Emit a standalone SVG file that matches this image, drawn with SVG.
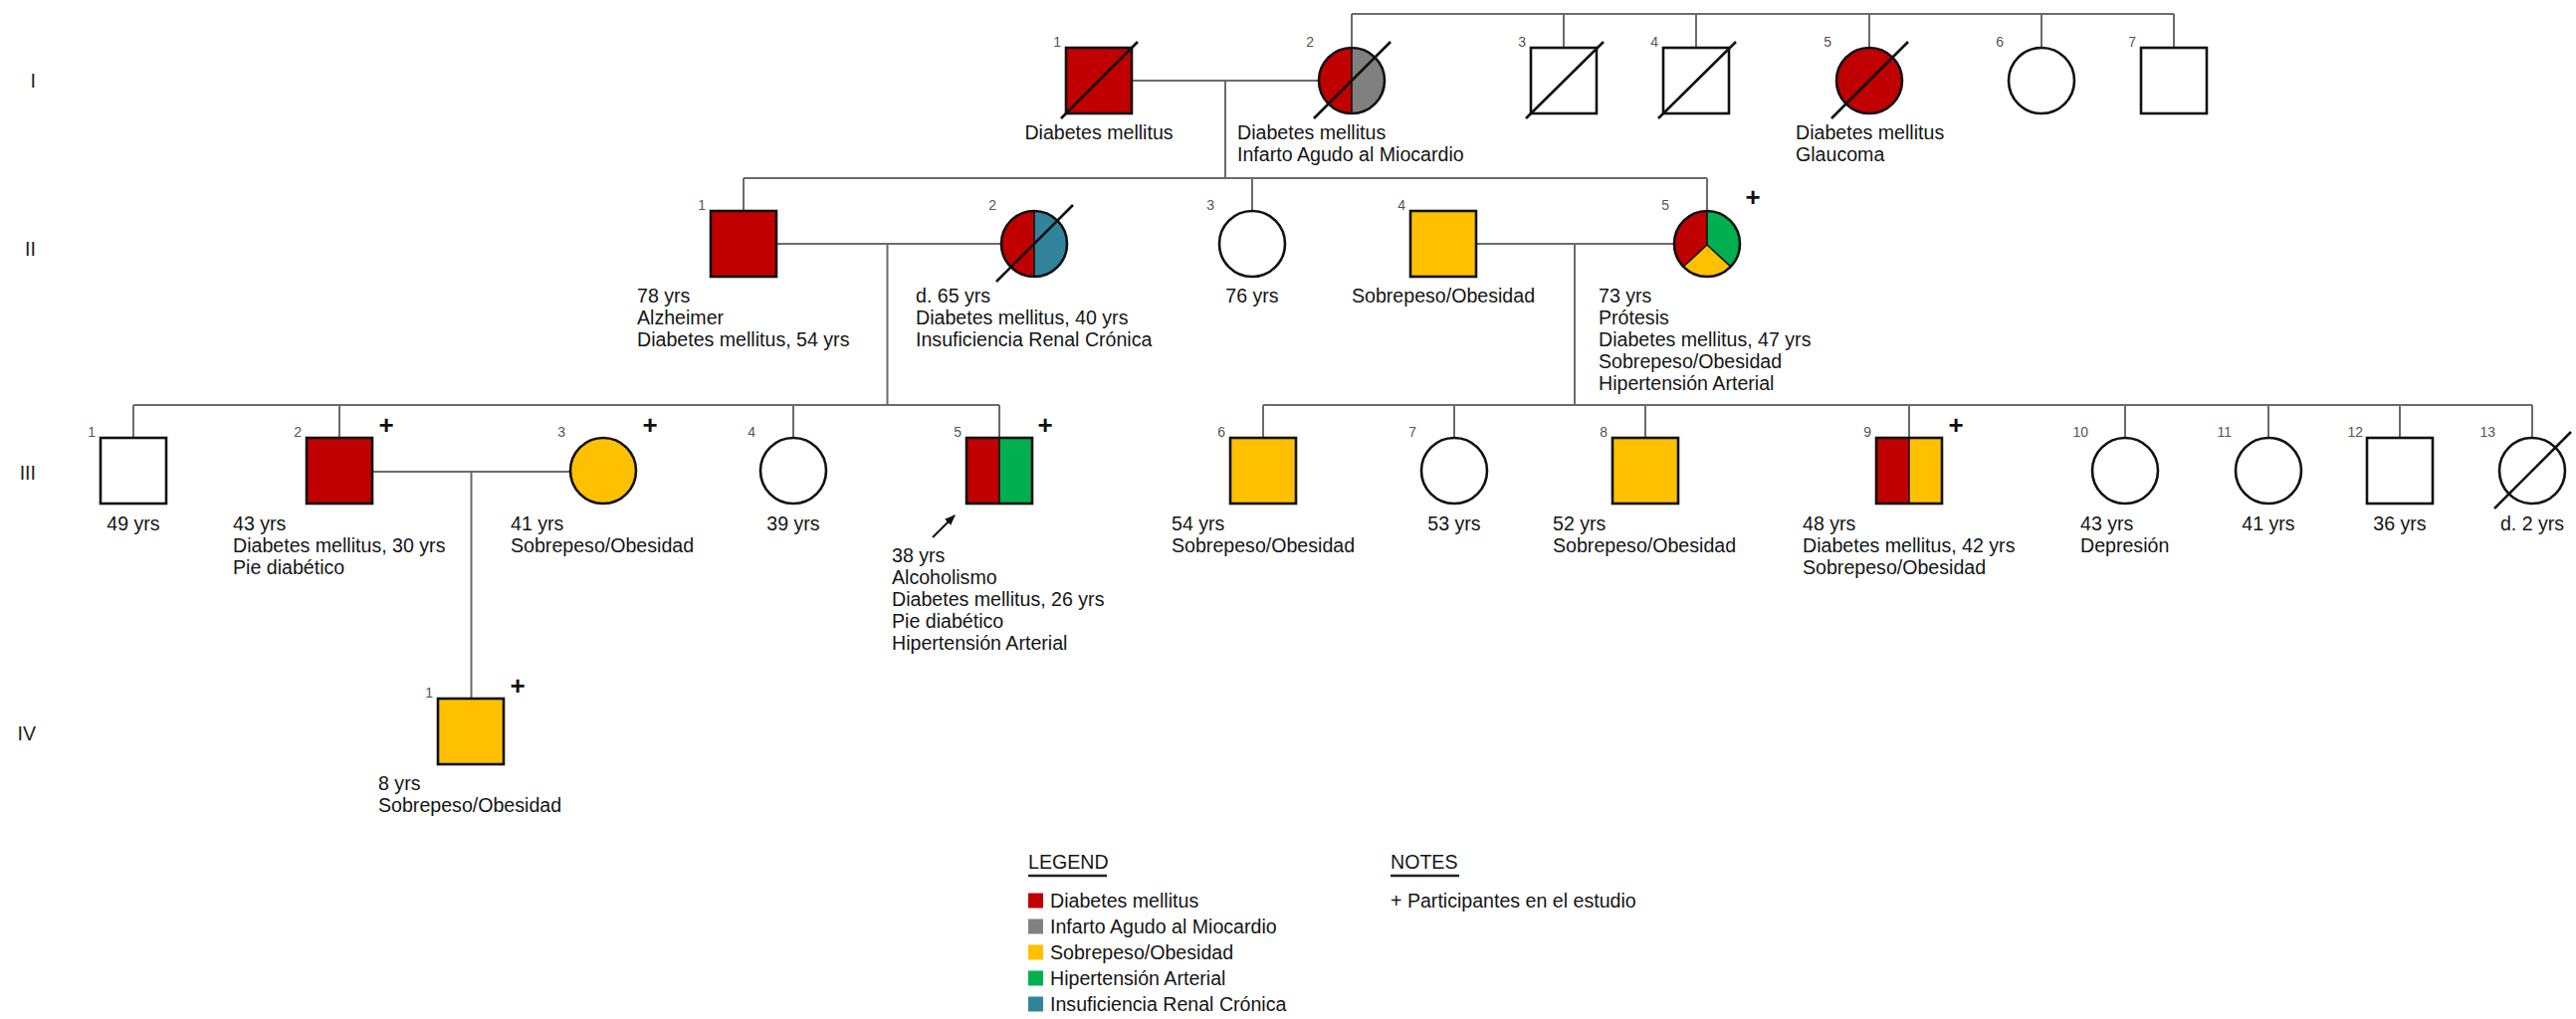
<svg xmlns="http://www.w3.org/2000/svg" width="2588" height="1024" viewBox="0 0 2588 1024">
<style>
text{font-family:"Liberation Sans",Arial,sans-serif}
.conn{stroke:#6b6b6b;stroke-width:2;fill:none}
.nd{stroke:#111;stroke-width:2.6;fill:#fff}
.nf{stroke:#111;stroke-width:2.6;fill:none}
.div{stroke:#111;stroke-width:1.6}
.dec{stroke:#111;stroke-width:2.6}
.lbl{font-size:19.6px;fill:#151515}
.mid{text-anchor:middle}
.num{font-size:14px;fill:#555;text-anchor:end}
.gen{font-size:19.6px;fill:#222;text-anchor:end}
.plus{font-size:26px;font-weight:bold;fill:#111;text-anchor:middle}
.dm{fill:#C00000}.iam{fill:#808080}.ob{fill:#FFC000}.hta{fill:#00B050}.irc{fill:#31849B}
</style>
<defs>
<marker id="ah" viewBox="0 0 10 10" refX="9" refY="5" markerWidth="11" markerHeight="11" markerUnits="userSpaceOnUse" orient="auto">
<path d="M0,1 L10,5 L0,9 Z" fill="#111"/>
</marker>
</defs>
<rect width="2588" height="1024" fill="#fff"/>

<g id="generations">
<text class="gen" x="36" y="88">I</text>
<text class="gen" x="36" y="257">II</text>
<text class="gen" x="36" y="482">III</text>
<text class="gen" x="36" y="744">IV</text>
</g>

<g id="connectors">
<path class="conn" d="M1358 14H2184M1358 14V48M1571 14V48M1704 14V48M1878 14V48M2051 14V48M2184 14V48"/>
<path class="conn" d="M1137 81H1325M1231 81V179"/>
<path class="conn" d="M747 179H1715M747 179V212M1258 179V212M1715 179V212"/>
<path class="conn" d="M780 245H1006M891.5 245V407"/>
<path class="conn" d="M1483 245H1682M1582 245V407"/>
<path class="conn" d="M134 407H1004M134 407V440M341 407V440M797 407V440M1004 407V440"/>
<path class="conn" d="M1269 407H2544M1269 407V440M1461 407V440M1653 407V440M1918 407V440M2135 407V440M2279 407V440M2411 407V440M2544 407V440"/>
<path class="conn" d="M374 474H573M473.5 474V702"/>
<line x1="937" y1="540" x2="959" y2="518" stroke="#111" stroke-width="2" marker-end="url(#ah)"/>
</g>

<!-- Generation I -->
<g id="I-1">
<rect class="nd dm" x="1071" y="48" width="66" height="66"/>
<line class="dec" x1="1066" y1="119" x2="1143" y2="42"/>
<text class="num" x="1066" y="47">1</text>
<text class="lbl mid" x="1104" y="140">Diabetes mellitus</text>
</g>
<g id="I-2">
<path class="dm" d="M1358 48A33 33 0 0 0 1358 114Z"/>
<path class="iam" d="M1358 48A33 33 0 0 1 1358 114Z"/>
<line class="div" x1="1358" y1="48" x2="1358" y2="114"/>
<circle class="nf" cx="1358" cy="81" r="33"/>
<line class="dec" x1="1320" y1="119" x2="1397" y2="42"/>
<text class="num" x="1320" y="47">2</text>
<text class="lbl" x="1243" y="140"><tspan x="1243">Diabetes mellitus</tspan><tspan x="1243" dy="22">Infarto Agudo al Miocardio</tspan></text>
</g>
<g id="I-3">
<rect class="nd" x="1538" y="48" width="66" height="66"/>
<line class="dec" x1="1533" y1="119" x2="1611" y2="42"/>
<text class="num" x="1533" y="47">3</text>
</g>
<g id="I-4">
<rect class="nd" x="1671" y="48" width="66" height="66"/>
<line class="dec" x1="1666" y1="119" x2="1744" y2="42"/>
<text class="num" x="1666" y="47">4</text>
</g>
<g id="I-5">
<circle class="nd dm" cx="1878" cy="81" r="33"/>
<line class="dec" x1="1840" y1="119" x2="1917" y2="42"/>
<text class="num" x="1840" y="47">5</text>
<text class="lbl" x="1804" y="140"><tspan x="1804">Diabetes mellitus</tspan><tspan x="1804" dy="22">Glaucoma</tspan></text>
</g>
<g id="I-6">
<circle class="nd" cx="2051" cy="81" r="33"/>
<text class="num" x="2013" y="47">6</text>
</g>
<g id="I-7">
<rect class="nd" x="2151" y="48" width="66" height="66"/>
<text class="num" x="2146" y="47">7</text>
</g>

<!-- Generation II -->
<g id="II-1">
<rect class="nd dm" x="714" y="212" width="66" height="66"/>
<text class="num" x="709" y="211">1</text>
<text class="lbl" x="640" y="304"><tspan x="640">78 yrs</tspan><tspan x="640" dy="22">Alzheimer</tspan><tspan x="640" dy="22">Diabetes mellitus, 54 yrs</tspan></text>
</g>
<g id="II-2">
<path class="dm" d="M1039 212A33 33 0 0 0 1039 278Z"/>
<path class="irc" d="M1039 212A33 33 0 0 1 1039 278Z"/>
<line class="div" x1="1039" y1="212" x2="1039" y2="278"/>
<circle class="nf" cx="1039" cy="245" r="33"/>
<line class="dec" x1="1001" y1="283" x2="1078" y2="206"/>
<text class="num" x="1001" y="211">2</text>
<text class="lbl" x="920" y="304"><tspan x="920">d. 65 yrs</tspan><tspan x="920" dy="22">Diabetes mellitus, 40 yrs</tspan><tspan x="920" dy="22">Insuficiencia Renal Crónica</tspan></text>
</g>
<g id="II-3">
<circle class="nd" cx="1258" cy="245" r="33"/>
<text class="num" x="1220" y="211">3</text>
<text class="lbl mid" x="1258" y="304">76 yrs</text>
</g>
<g id="II-4">
<rect class="nd ob" x="1417" y="212" width="66" height="66"/>
<text class="num" x="1412" y="211">4</text>
<text class="lbl mid" x="1450" y="304">Sobrepeso/Obesidad</text>
</g>
<g id="II-5">
<path class="dm" d="M1715 246L1715 212A33 33 0 0 0 1691.3 267.9Z"/>
<path class="hta" d="M1715 246L1715 212A33 33 0 0 1 1738.7 267.9Z"/>
<path class="ob" d="M1715 246L1738.7 267.9A33 33 0 0 1 1691.3 267.9Z"/>
<path class="div" d="M1715 212V246L1691.3 267.9M1715 246L1738.7 267.9" fill="none"/>
<circle class="nf" cx="1715" cy="245" r="33"/>
<text class="num" x="1677" y="211">5</text>
<text class="plus" x="1761" y="207">+</text>
<text class="lbl" x="1606" y="304"><tspan x="1606">73 yrs</tspan><tspan x="1606" dy="22">Prótesis</tspan><tspan x="1606" dy="22">Diabetes mellitus, 47 yrs</tspan><tspan x="1606" dy="22">Sobrepeso/Obesidad</tspan><tspan x="1606" dy="22">Hipertensión Arterial</tspan></text>
</g>

<!-- Generation III -->
<g id="III-1">
<rect class="nd" x="101" y="440" width="66" height="66"/>
<text class="num" x="96" y="439">1</text>
<text class="lbl mid" x="134" y="533">49 yrs</text>
</g>
<g id="III-2">
<rect class="nd dm" x="308" y="440" width="66" height="66"/>
<text class="num" x="303" y="439">2</text>
<text class="plus" x="388" y="436">+</text>
<text class="lbl" x="234" y="533"><tspan x="234">43 yrs</tspan><tspan x="234" dy="22">Diabetes mellitus, 30 yrs</tspan><tspan x="234" dy="22">Pie diabético</tspan></text>
</g>
<g id="III-3">
<circle class="nd ob" cx="606" cy="473" r="33"/>
<text class="num" x="568" y="439">3</text>
<text class="plus" x="653" y="436">+</text>
<text class="lbl" x="513" y="533"><tspan x="513">41 yrs</tspan><tspan x="513" dy="22">Sobrepeso/Obesidad</tspan></text>
</g>
<g id="III-4">
<circle class="nd" cx="797" cy="473" r="33"/>
<text class="num" x="759" y="439">4</text>
<text class="lbl mid" x="797" y="533">39 yrs</text>
</g>
<g id="III-5">
<rect class="dm" x="971" y="440" width="33" height="66"/>
<rect class="hta" x="1004" y="440" width="33" height="66"/>
<line class="div" x1="1004" y1="440" x2="1004" y2="506"/>
<rect class="nf" x="971" y="440" width="66" height="66"/>
<text class="num" x="966" y="439">5</text>
<text class="plus" x="1050" y="436">+</text>
<text class="lbl" x="896" y="565"><tspan x="896">38 yrs</tspan><tspan x="896" dy="22">Alcoholismo</tspan><tspan x="896" dy="22">Diabetes mellitus, 26 yrs</tspan><tspan x="896" dy="22">Pie diabético</tspan><tspan x="896" dy="22">Hipertensión Arterial</tspan></text>
</g>
<g id="III-6">
<rect class="nd ob" x="1236" y="440" width="66" height="66"/>
<text class="num" x="1231" y="439">6</text>
<text class="lbl" x="1177" y="533"><tspan x="1177">54 yrs</tspan><tspan x="1177" dy="22">Sobrepeso/Obesidad</tspan></text>
</g>
<g id="III-7">
<circle class="nd" cx="1461" cy="473" r="33"/>
<text class="num" x="1423" y="439">7</text>
<text class="lbl mid" x="1461" y="533">53 yrs</text>
</g>
<g id="III-8">
<rect class="nd ob" x="1620" y="440" width="66" height="66"/>
<text class="num" x="1615" y="439">8</text>
<text class="lbl" x="1560" y="533"><tspan x="1560">52 yrs</tspan><tspan x="1560" dy="22">Sobrepeso/Obesidad</tspan></text>
</g>
<g id="III-9">
<rect class="dm" x="1885" y="440" width="33" height="66"/>
<rect class="ob" x="1918" y="440" width="33" height="66"/>
<line class="div" x1="1918" y1="440" x2="1918" y2="506"/>
<rect class="nf" x="1885" y="440" width="66" height="66"/>
<text class="num" x="1880" y="439">9</text>
<text class="plus" x="1965" y="436">+</text>
<text class="lbl" x="1811" y="533"><tspan x="1811">48 yrs</tspan><tspan x="1811" dy="22">Diabetes mellitus, 42 yrs</tspan><tspan x="1811" dy="22">Sobrepeso/Obesidad</tspan></text>
</g>
<g id="III-10">
<circle class="nd" cx="2135" cy="473" r="33"/>
<text class="num" x="2098" y="439">10</text>
<text class="lbl" x="2090" y="533"><tspan x="2090">43 yrs</tspan><tspan x="2090" dy="22">Depresión</tspan></text>
</g>
<g id="III-11">
<circle class="nd" cx="2279" cy="473" r="33"/>
<text class="num" x="2242" y="439">11</text>
<text class="lbl mid" x="2279" y="533">41 yrs</text>
</g>
<g id="III-12">
<rect class="nd" x="2378" y="440" width="66" height="66"/>
<text class="num" x="2374" y="439">12</text>
<text class="lbl mid" x="2411" y="533">36 yrs</text>
</g>
<g id="III-13">
<circle class="nd" cx="2544" cy="473" r="33"/>
<line class="dec" x1="2506" y1="511" x2="2583" y2="434"/>
<text class="num" x="2507" y="439">13</text>
<text class="lbl mid" x="2544" y="533">d. 2 yrs</text>
</g>

<!-- Generation IV -->
<g id="IV-1">
<rect class="nd ob" x="440" y="702" width="66" height="66"/>
<text class="num" x="435" y="701">1</text>
<text class="plus" x="520" y="698">+</text>
<text class="lbl" x="380" y="794"><tspan x="380">8 yrs</tspan><tspan x="380" dy="22">Sobrepeso/Obesidad</tspan></text>
</g>

<g id="legend">
<text class="lbl" x="1033" y="873">LEGEND</text>
<line x1="1033" y1="880" x2="1112" y2="880" stroke="#222" stroke-width="2.5"/>
<rect class="dm" x="1033" y="897.5" width="15" height="15"/>
<text class="lbl" x="1055" y="912">Diabetes mellitus</text>
<rect class="iam" x="1033" y="923.5" width="15" height="15"/>
<text class="lbl" x="1055" y="938">Infarto Agudo al Miocardio</text>
<rect class="ob" x="1033" y="949.5" width="15" height="15"/>
<text class="lbl" x="1055" y="964">Sobrepeso/Obesidad</text>
<rect class="hta" x="1033" y="975.5" width="15" height="15"/>
<text class="lbl" x="1055" y="990">Hipertensión Arterial</text>
<rect class="irc" x="1033" y="1001.5" width="15" height="15"/>
<text class="lbl" x="1055" y="1016">Insuficiencia Renal Crónica</text>
</g>
<g id="notes">
<text class="lbl" x="1397" y="873">NOTES</text>
<line x1="1397" y1="880" x2="1466" y2="880" stroke="#222" stroke-width="2.5"/>
<text class="lbl" x="1397" y="912">+ Participantes en el estudio</text>
</g>
</svg>
